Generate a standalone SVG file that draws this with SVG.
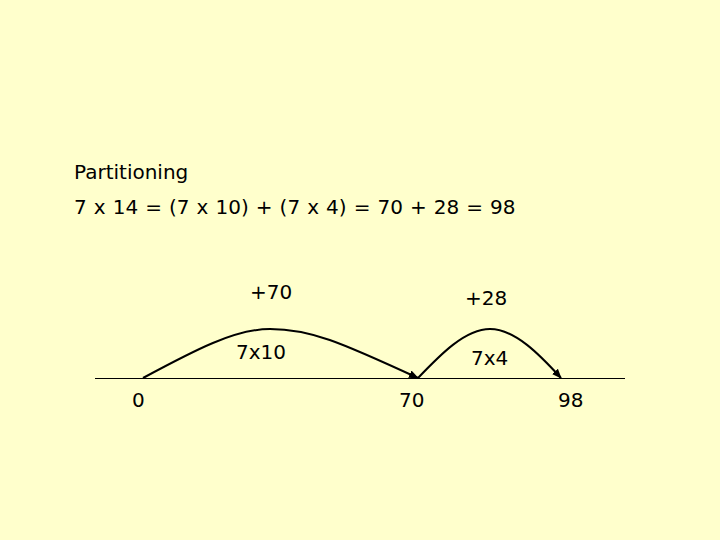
<svg xmlns="http://www.w3.org/2000/svg" width="720" height="540" viewBox="0 0 720 540">
<defs>
<style>
text{font-family:"DejaVu Sans","Verdana",sans-serif;font-size:20px;fill:#000}
.eq{word-spacing:0.7px}
.arc{fill:none;stroke:#000;stroke-width:2}
</style>
<marker id="ah" markerUnits="userSpaceOnUse" markerWidth="10" markerHeight="10" refX="9" refY="5" orient="auto" viewBox="0 0 10 10">
<path d="M0,1 L10,5 L0,9 Z" fill="#000"/>
</marker>
</defs>
<rect width="720" height="540" fill="#FFFFCC"/>
<g id="title">
<text x="74" y="179">Partitioning</text>
<text class="eq" x="74" y="214">7 x 14 = (7 x 10) + (7 x 4) = 70 + 28 = 98</text>
</g>
<g id="numberline">
<line x1="95" y1="378.5" x2="625" y2="378.5" stroke="#000" stroke-width="1"/>
</g>
<g id="connectors">
<path class="arc" d="M143,378 C195,350 235,329 270,329 C310,329 340,342 418,378" marker-end="url(#ah)"/>
<path class="arc" d="M418,378 C440,355 465,329 490,329 C515,329 540,355 561,378" marker-end="url(#ah)"/>
</g>
<g id="label-plus70"><text x="250" y="299">+70</text></g>
<g id="label-7x10"><text x="236" y="359">7x10</text></g>
<g id="label-plus28"><text x="465" y="305">+28</text></g>
<g id="label-7x4"><text x="471" y="365">7x4</text></g>
<g id="tick-0"><text x="132" y="407">0</text></g>
<g id="tick-70"><text x="399" y="407">70</text></g>
<g id="tick-98"><text x="558" y="407">98</text></g>
</svg>
